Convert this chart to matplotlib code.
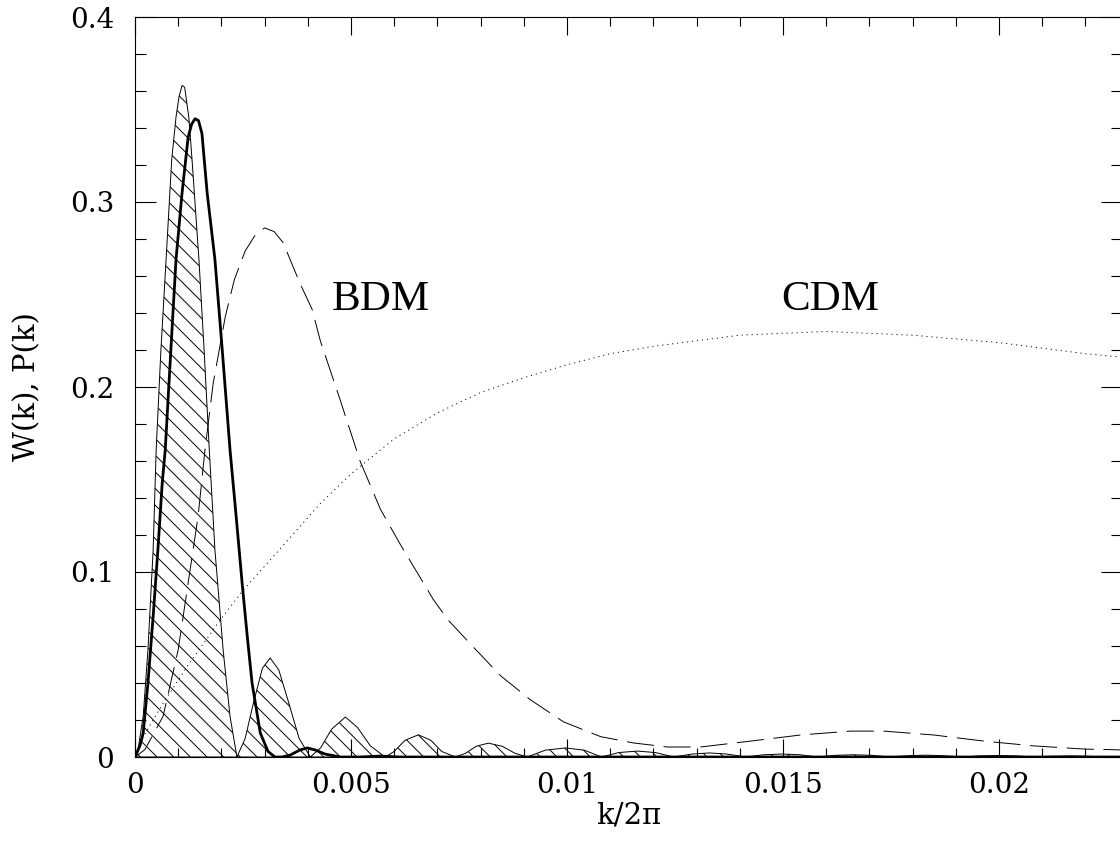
"""
Window function W(k) against the BDM and CDM power spectra P(k).
Values read off the published figure; k/2pi is stored in units of 1e-3.
"""
import numpy as np
import matplotlib

matplotlib.use("Agg")
from matplotlib import pyplot as plt

# hatched window function (thin line)
w_k = [0, 0.07, 0.19, 0.30, 0.42, 0.49, 0.60, 0.72, 0.85, 0.95, 1.02, 1.09, 1.15,
       1.25, 1.32, 1.48, 1.60, 1.72, 1.85, 2.04, 2.20, 2.36,
       2.55, 2.75, 2.95, 3.13, 3.33, 3.55, 3.80, 4.06,
       4.30, 4.55, 4.87, 5.15, 5.45, 5.79,
       6.00, 6.25, 6.56, 6.85, 7.10, 7.42,
       7.65, 7.90, 8.18, 8.50, 8.80, 9.08,
       9.50, 9.97, 10.40, 10.80,
       11.20, 11.63, 12.05, 12.47,
       12.90, 13.30, 13.70, 14.14,
       14.55, 14.97, 15.40, 15.80,
       16.20, 16.64, 17.05, 17.47,
       17.90, 18.31, 18.70, 19.14,
       19.55, 19.98, 20.40, 20.81,
       21.20, 21.65, 22.05, 22.48, 22.90]
w_val = [0, 0.004, 0.022, 0.058, 0.112, 0.166, 0.220, 0.269, 0.323, 0.346, 0.357, 0.363, 0.362,
         0.345, 0.323, 0.269, 0.220, 0.166, 0.112, 0.058, 0.022, 0.0,
         0.010, 0.030, 0.048, 0.0535, 0.047, 0.030, 0.010, 0.0,
         0.005, 0.015, 0.0216, 0.016, 0.006, 0.0,
         0.003, 0.009, 0.012, 0.009, 0.003, 0.0,
         0.002, 0.0058, 0.0075, 0.0058, 0.002, 0.0,
         0.0037, 0.0049, 0.0037, 0.0,
         0.0024, 0.0032, 0.0024, 0.0,
         0.0016, 0.0022, 0.0016, 0.0,
         0.0012, 0.0016, 0.0012, 0.0,
         0.0009, 0.0012, 0.0009, 0.0,
         0.0007, 0.0010, 0.0007, 0.0,
         0.0006, 0.0008, 0.0006, 0.0,
         0.0004, 0.0006, 0.0004, 0.0, 0.0003]

# thick curve
thick_k = [0, 0.12, 0.19, 0.30, 0.42, 0.53, 0.63, 0.70, 0.83, 0.95, 1.09, 1.23,
           1.31, 1.39, 1.47, 1.55, 1.67, 1.85, 2.02, 2.20, 2.35, 2.48, 2.60, 2.71,
           2.90, 3.08, 3.24, 3.40, 3.59, 3.82, 3.99, 4.17, 4.40, 4.75, 5.21, 5.68,
           6.14, 22.90]
thick_val = [0, 0.0065, 0.013, 0.040, 0.076, 0.112, 0.148, 0.166, 0.220, 0.269, 0.305, 0.335,
             0.342, 0.345, 0.344, 0.337, 0.305, 0.269, 0.220, 0.166, 0.128, 0.094, 0.065, 0.040,
             0.013, 0.003, 0.0, 0.0, 0.001, 0.0038, 0.0049, 0.0038, 0.0016, 0.0, 0.0, 0.0005,
             0.0, 0.0]

# BDM spectrum (dashed)
bdm_k = [0, 0.23, 0.65, 1.00, 1.23, 1.46, 1.62, 1.81, 2.09, 2.30, 2.55, 2.78, 3.00, 3.22,
         3.43, 3.82, 4.10, 4.29, 4.75, 5.21, 5.68, 6.14, 6.91, 7.25, 7.83, 8.46,
         9.15, 9.92, 10.78, 11.54, 12.33, 13.09, 14.25, 15.41, 16.57, 17.33,
         18.49, 19.65, 20.81, 21.97, 22.90]
bdm_val = [0, 0.004, 0.022, 0.058, 0.094, 0.130, 0.166, 0.202, 0.238, 0.258, 0.2735, 0.282, 0.286,
           0.284, 0.278, 0.256, 0.242, 0.225, 0.193, 0.160, 0.134, 0.115, 0.085, 0.074, 0.0595,
           0.044, 0.031, 0.019, 0.011, 0.0076, 0.0054, 0.0054, 0.0086, 0.0119, 0.014, 0.014,
           0.0119, 0.0086, 0.006, 0.0043, 0.0038]

# CDM spectrum (dotted)
cdm_k = [0, 0.19, 0.65, 1.21, 1.97, 2.50, 3.13, 4.29, 5.0, 6.0, 7.0, 8.0, 9.0,
         10.0, 11.0, 12.0, 13.0, 14.0, 15.0, 16.0, 17.0, 18.0, 19.0, 20.0, 21.0,
         22.0, 22.9]
cdm_val = [0, 0.011, 0.029, 0.049, 0.074, 0.090, 0.1065, 0.137, 0.153, 0.172, 0.186,
           0.197, 0.205, 0.212, 0.218, 0.222, 0.225, 0.228, 0.229, 0.230, 0.229,
           0.228, 0.226, 0.224, 0.221, 0.218, 0.216]

x_ticks = [0, 0.005, 0.01, 0.015, 0.02]
x_labels = ["0", "0.005", "0.01", "0.015", "0.02"]
y_ticks = [0, 0.1, 0.2, 0.3, 0.4]
y_labels = ["0", "0.1", "0.2", "0.3", "0.4"]


def main():
    plt.rcParams["font.family"] = ["DejaVu Serif"]
    plt.rcParams["lines.scale_dashes"] = False
    plt.rcParams["hatch.linewidth"] = 0.7

    dpi = 100
    fig = plt.figure(figsize=(11.2, 8.42), dpi=dpi)
    ax = fig.add_axes([135 / 1120, 85 / 842, 987 / 1120, 740 / 842])

    k = np.array(w_k) * 1e-3
    ax.fill_between(k, w_val, facecolor="none", edgecolor="black",
                    hatch="\\\\", linewidth=0.7)
    ax.plot(np.array(thick_k) * 1e-3, thick_val, color="black", lw=2.0)
    ax.plot(np.array(bdm_k) * 1e-3, bdm_val, color="black", lw=0.7,
            linestyle=(0, (19.5, 7)))
    ax.plot(np.array(cdm_k) * 1e-3, cdm_val, color="black", lw=0.7,
            linestyle=(0, (0.8, 2.8)))

    for x, name in [(5.7e-3, "BDM"), (16.1e-3, "CDM")]:
        ax.text(x, 0.247, name, fontsize=31, ha="center", va="center",
                family="Liberation Serif")

    ax.set_xlim(0, 0.02285)
    ax.set_ylim(0, 0.4)
    ax.set_xticks(x_ticks)
    ax.set_xticklabels(x_labels)
    ax.set_yticks(y_ticks)
    ax.set_yticklabels(y_labels)
    ax.set_xticks(np.arange(0, 0.0229, 0.001), minor=True)
    ax.set_yticks(np.arange(0, 0.41, 0.02), minor=True)
    ax.tick_params(which="both", direction="in", top=True, right=True,
                   labelsize=20, width=0.8)
    ax.tick_params(axis="x", which="major", length=13, pad=11)
    ax.tick_params(axis="x", which="minor", length=6.5)
    ax.tick_params(axis="y", which="major", length=15, pad=15)
    ax.tick_params(axis="y", which="minor", length=8)
    for s in ax.spines.values():
        s.set_linewidth(0.8)

    ax.set_xlabel("k/2π", fontsize=21)
    ax.set_ylabel("W(k), P(k)", fontsize=21)
    ax.xaxis.set_label_coords(0.5, -0.06)
    ax.yaxis.set_label_coords(-0.095, 0.5)

    fig.savefig("out.png", dpi=dpi)


if __name__ == "__main__":
    main()
